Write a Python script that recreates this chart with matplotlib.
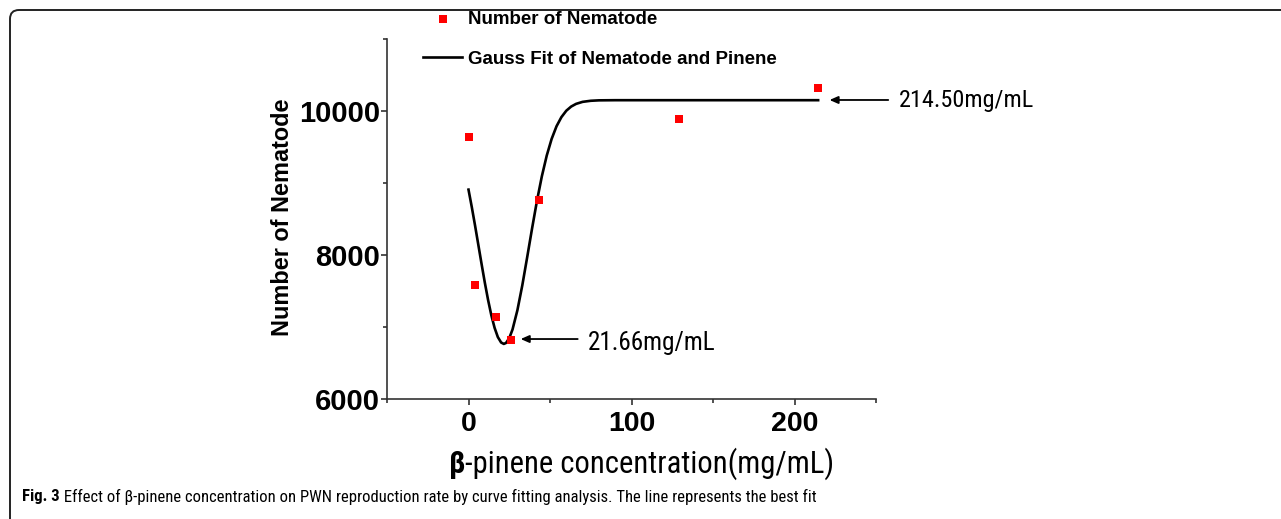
import matplotlib
matplotlib.use("Agg")
import matplotlib.pyplot as plt
from matplotlib import font_manager
from matplotlib.patches import FancyBboxPatch
from matplotlib.transforms import IdentityTransform
from matplotlib.ticker import MultipleLocator

# ---- data ----
conc = [0, 4, 17, 26, 43, 129, 214.5]
nematodes = [9645, 7580, 7135, 6825, 8760, 9890, 10315]

fit_x = [0, 2, 4, 6, 8, 10, 12, 14, 16, 18, 20, 21.66, 23, 25, 27, 30, 33, 36,
         39, 42, 45, 48, 51, 54, 57, 60, 63, 66, 70, 75, 80, 90, 120, 160, 214.5]
fit_y = [8908, 8668, 8412, 8145, 7878, 7618, 7377, 7164, 6989, 6860, 6785, 6765,
         6778, 6845, 6965, 7233, 7578, 7969, 8369, 8752, 9093, 9381, 9612, 9788,
         9915, 10004, 10062, 10099, 10127, 10142, 10148, 10150, 10150, 10150, 10150]

x_ticks = [0, 100, 200]
y_ticks = [6000, 8000, 10000]

legend_labels = ["Number of Nematode", "Gauss Fit of Nematode and Pinene"]
ann_min = "21.66mg/mL"
ann_max = "214.50mg/mL"
xlabel_beta = "β"
xlabel_rest = "-pinene concentration(mg/mL)"
ylabel = "Number of Nematode"
cap_bold = "Fig. 3"
cap_rest = " Effect of β-pinene concentration on PWN reproduction rate by curve fitting analysis. The line represents the best fit"


def pick_narrow():
    for fam in ["Liberation Sans Narrow", "Roboto Condensed", "Open Sans Condensed"]:
        try:
            font_manager.findfont(font_manager.FontProperties(family=fam), fallback_to_default=False)
            return dict(family=fam), 1.0
        except Exception:
            pass
    try:
        p = font_manager.findfont(font_manager.FontProperties(family="DejaVu Sans", stretch="condensed"),
                                  fallback_to_default=False)
        if "Condensed" in p:
            return dict(family="DejaVu Sans", stretch="condensed"), 0.88
    except Exception:
        pass
    return dict(family="Open Sans"), 0.8

NARROW_KW, NSCALE = pick_narrow()
SANS = "Liberation Sans"

W, H = 1281, 519
fig = plt.figure(figsize=(W / 100, H / 100), dpi=100)
fig.patch.set_facecolor("white")

# frame border (left + top edges with rounded corner visible)
fig.patches.append(FancyBboxPatch((10, -60), 1400, 509 + 60, boxstyle="round,pad=0,rounding_size=9",
                                  transform=IdentityTransform(), fill=False, lw=1.4, ec="#222222"))

ax = fig.add_axes([387 / W, 1 - 399 / H, (876 - 387) / W, (399 - 39) / H])
ax.set_xlim(-50, 250)
ax.set_ylim(6000, 11000)

sc = ax.scatter(conc, nematodes, marker="s", s=26, color="#ff0000", zorder=3, linewidths=0,
                label=legend_labels[0])
ln, = ax.plot(fit_x, fit_y, color="black", lw=1.9, zorder=2, label=legend_labels[1])

for s in ["top", "right"]:
    ax.spines[s].set_visible(False)
for s in ["left", "bottom"]:
    ax.spines[s].set_linewidth(1.2)
    ax.spines[s].set_color("#333333")

ax.set_xticks(x_ticks)
ax.set_yticks(y_ticks)
ax.xaxis.set_minor_locator(MultipleLocator(50))
ax.yaxis.set_minor_locator(MultipleLocator(1000))
ax.tick_params(which="major", length=4.3, width=1.2, color="#333333", direction="out")
ax.tick_params(which="minor", length=2.6, width=1.2, color="#333333", direction="out")
ax.tick_params(axis="x", which="major", pad=4.5)
ax.tick_params(axis="y", which="major", pad=0.5)
for lab in ax.get_xticklabels():
    lab.set_fontfamily(SANS)
    lab.set_fontweight("bold")
    lab.set_fontsize(20.5)
for lab in ax.get_yticklabels():
    lab.set_fontfamily(SANS)
    lab.set_fontweight("bold")
    lab.set_fontsize(21)

ax.set_ylabel(ylabel, fontfamily=SANS, fontweight="bold", fontsize=16.9, va="center")
ax.yaxis.set_label_coords(-0.213, 0.505)

leg = ax.legend(handles=[sc, ln], labels=legend_labels, loc="upper left",
                bbox_to_anchor=(423 / W, 1 - 11 / H), bbox_transform=fig.transFigure,
                frameon=False, prop=dict(family=SANS, weight="bold", size=13.5),
                handlelength=2.1, handletextpad=0.3, labelspacing=1.2, borderpad=0,
                borderaxespad=0, markerscale=1.0, scatterpoints=1)

# annotations
arrow_kw = dict(arrowstyle="-|>,head_length=0.5,head_width=0.22", color="black", lw=1.3,
                shrinkA=0, shrinkB=0)
ann_size = 18.1 * NSCALE
ax.annotate("", xy=(32, 6833), xytext=(67, 6833), arrowprops=arrow_kw, annotation_clip=False)
ax.text(73, 6780, ann_min, fontsize=ann_size, va="center", ha="left", **NARROW_KW)
ax.annotate("", xy=(221.5, 10153), xytext=(257.5, 10153), arrowprops=arrow_kw, annotation_clip=False)
ax.text(264, 10140, ann_max, fontsize=ann_size * 0.96, va="center", ha="left", clip_on=False, **NARROW_KW)

# x label: bold beta + regular rest
xl_size = 22.1 * NSCALE
tb = fig.text(449 / W, 1 - 464 / H, xlabel_beta, fontweight="bold",
              fontsize=xl_size, va="center", ha="left", **NARROW_KW)
ax.annotate(xlabel_rest, xy=(1, 0.5), xycoords=tb, va="center", ha="left",
            fontsize=xl_size, annotation_clip=False, **NARROW_KW)

# caption
cap_size = 12.0 * NSCALE
tc = fig.text(22 / W, 1 - 497 / H, cap_bold, fontweight="bold",
              fontsize=cap_size, va="center", ha="left", **NARROW_KW)
ax.annotate(cap_rest, xy=(1, 0.5), xycoords=tc, va="center", ha="left",
            fontsize=cap_size, annotation_clip=False, **NARROW_KW)

fig.savefig("out.png", dpi=100, facecolor="white")
